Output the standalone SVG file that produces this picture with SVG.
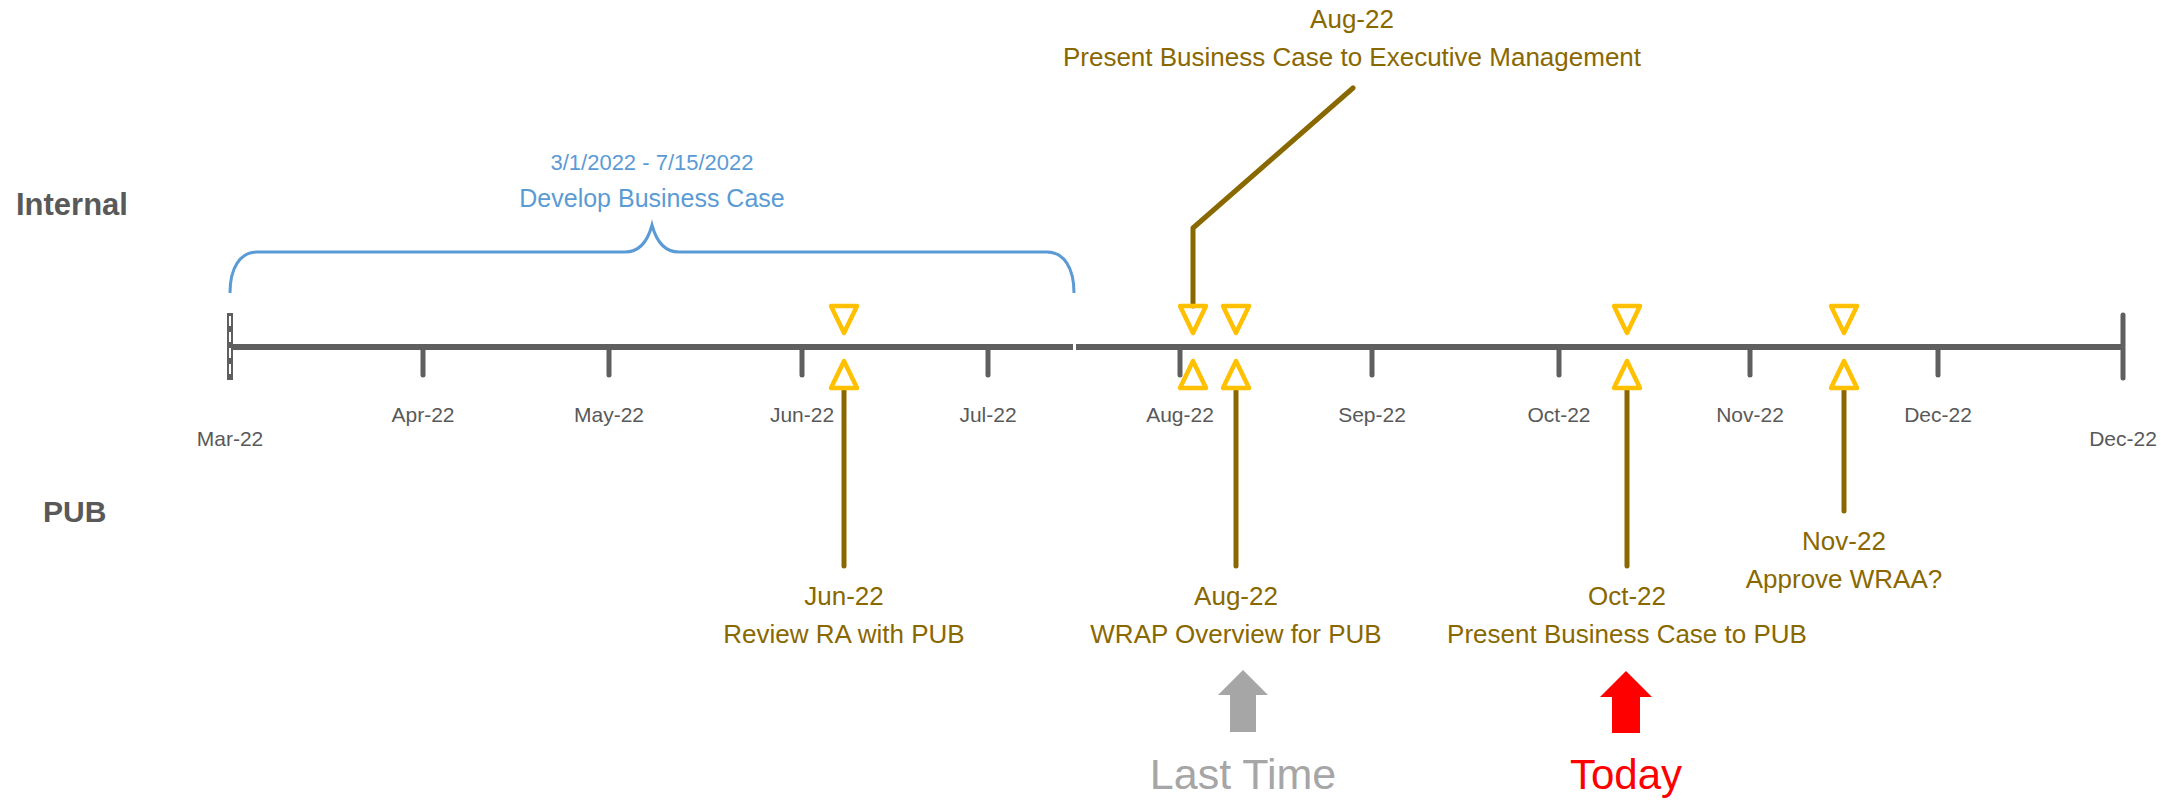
<svg xmlns="http://www.w3.org/2000/svg" width="2176" height="803" viewBox="0 0 2176 803">
<style>
text{font-family:"Liberation Sans",Arial,sans-serif}
.lane{font-weight:bold;font-size:31px;fill:#595959}
.month{font-size:21px;fill:#595959;text-anchor:middle}
.ms{font-size:26px;fill:#8A6800;text-anchor:middle}
.blue{fill:#5B9BD5;text-anchor:middle}
.axis{stroke:#5F5F5F;stroke-width:6;fill:none}
.tick{stroke:#5F5F5F;stroke-width:5;stroke-linecap:round;fill:none}
.tri{fill:none;stroke:#FFC000;stroke-width:4.5;stroke-linejoin:round}
.lead{stroke:#8A6800;stroke-width:5;fill:none;stroke-linecap:round;stroke-linejoin:round}
</style>
<rect width="2176" height="803" fill="#ffffff"/>
<g id="lanes">
<text class="lane" x="16" y="215">Internal</text>
<text class="lane" x="43" y="522" style="font-size:30px">PUB</text>
</g>
<g id="axis">
<line class="axis" x1="230" y1="347" x2="1073" y2="347"/>
<line class="axis" x1="1076" y1="347" x2="2123" y2="347"/>
<rect x="227" y="313" width="6" height="67" fill="#5F5F5F"/>
<line x1="230" y1="316" x2="230" y2="378" stroke="#ffffff" stroke-width="2" stroke-dasharray="10,6"/>
<line class="tick" x1="2123" y1="315" x2="2123" y2="378"/>
<line class="tick" x1="423" y1="347" x2="423" y2="375"/>
<line class="tick" x1="609" y1="347" x2="609" y2="375"/>
<line class="tick" x1="802" y1="347" x2="802" y2="375"/>
<line class="tick" x1="988" y1="347" x2="988" y2="375"/>
<line class="tick" x1="1180" y1="347" x2="1180" y2="375"/>
<line class="tick" x1="1372" y1="347" x2="1372" y2="375"/>
<line class="tick" x1="1559" y1="347" x2="1559" y2="375"/>
<line class="tick" x1="1750" y1="347" x2="1750" y2="375"/>
<line class="tick" x1="1938" y1="347" x2="1938" y2="375"/>
<text class="month" x="230" y="446">Mar-22</text>
<text class="month" x="423" y="422">Apr-22</text>
<text class="month" x="609" y="422">May-22</text>
<text class="month" x="802" y="422">Jun-22</text>
<text class="month" x="988" y="422">Jul-22</text>
<text class="month" x="1180" y="422">Aug-22</text>
<text class="month" x="1372" y="422">Sep-22</text>
<text class="month" x="1559" y="422">Oct-22</text>
<text class="month" x="1750" y="422">Nov-22</text>
<text class="month" x="1938" y="422">Dec-22</text>
<text class="month" x="2123" y="446">Dec-22</text>
</g>
<g id="connectors">
<polyline class="lead" points="1353,88 1193,228 1193,306"/>
<line class="lead" x1="844" y1="390" x2="844" y2="566"/>
<line class="lead" x1="1236" y1="390" x2="1236" y2="566"/>
<line class="lead" x1="1627" y1="390" x2="1627" y2="566"/>
<line class="lead" x1="1844" y1="390" x2="1844" y2="511"/>
</g>
<g id="develop-business-case">
<path d="M230,293 C230,268 240,252 257,252 L625,252 C640,252 648,240 652,225 C656,240 664,252 679,252 L1047,252 C1064,252 1074,268 1074,293" fill="none" stroke="#5B9BD5" stroke-width="3"/>
<text class="blue" x="652" y="170" font-size="22">3/1/2022 - 7/15/2022</text>
<text class="blue" x="652" y="207" font-size="25">Develop Business Case</text>
</g>
<g id="ms-jun">
<polygon class="tri" points="831,306 857,306 844,333"/>
<polygon class="tri" points="844,361 831,388 857,388"/>
<text class="ms" x="844" y="605">Jun-22</text>
<text class="ms" x="844" y="643">Review RA with PUB</text>
</g>
<g id="ms-aug-exec">
<polygon class="tri" points="1180,306 1206,306 1193,333"/>
<polygon class="tri" points="1193,361 1180,388 1206,388"/>
<text class="ms" x="1352" y="28">Aug-22</text>
<text class="ms" x="1352" y="66">Present Business Case to Executive Management</text>
</g>
<g id="ms-aug-wrap">
<polygon class="tri" points="1223,306 1249,306 1236,333"/>
<polygon class="tri" points="1236,361 1223,388 1249,388"/>
<text class="ms" x="1236" y="605">Aug-22</text>
<text class="ms" x="1236" y="643">WRAP Overview for PUB</text>
</g>
<g id="ms-oct">
<polygon class="tri" points="1614,306 1640,306 1627,333"/>
<polygon class="tri" points="1627,361 1614,388 1640,388"/>
<text class="ms" x="1627" y="605">Oct-22</text>
<text class="ms" x="1627" y="643">Present Business Case to PUB</text>
</g>
<g id="ms-nov">
<polygon class="tri" points="1831,306 1857,306 1844,333"/>
<polygon class="tri" points="1844,361 1831,388 1857,388"/>
<text class="ms" x="1844" y="550">Nov-22</text>
<text class="ms" x="1844" y="588">Approve WRAA?</text>
</g>
<g id="last-time">
<polygon points="1243,670 1268,695 1256,695 1256,732 1230,732 1230,695 1218,695" fill="#A6A6A6"/>
<text x="1243" y="789" font-size="43" fill="#A6A6A6" text-anchor="middle">Last Time</text>
</g>
<g id="today">
<polygon points="1626,671 1652,697 1640,697 1640,733 1612,733 1612,697 1600,697" fill="#FF0000"/>
<text x="1626" y="789" font-size="42" fill="#FF0000" text-anchor="middle">Today</text>
</g>
</svg>
